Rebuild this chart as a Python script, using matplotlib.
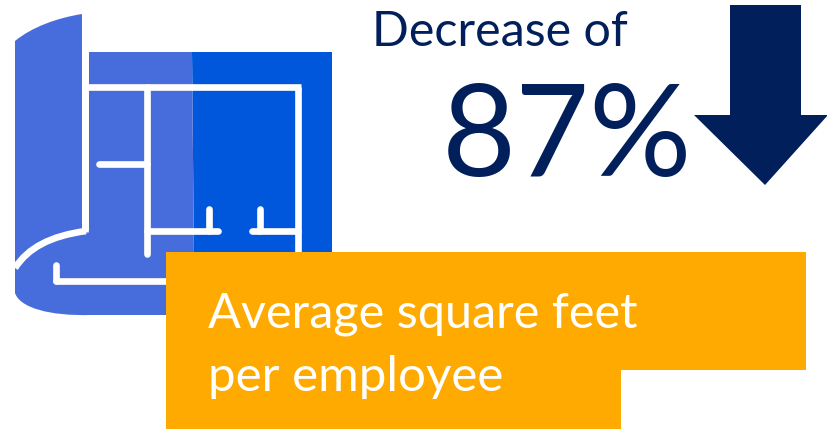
import matplotlib
matplotlib.use("Agg")
import matplotlib.pyplot as plt
import matplotlib.patches as patches
from matplotlib.path import Path

# Callout text
heading = "Decrease of"
decrease_pct = 87
caption_lines = ["Average square feet", "per employee"]

navy = "#001F5B"
orange = "#FFAA00"
light_blue = "#476CDB"
dark_blue = "#0057DB"

plt.rcParams["font.family"] = ["Lato", "DejaVu Sans"]

fig = plt.figure(figsize=(8.28, 4.29), dpi=100)
ax = fig.add_axes([0, 0, 1, 1])
ax.set_xlim(0, 828)
ax.set_ylim(429, 0)
ax.axis("off")


def poly(points, color, z=1):
    ax.add_patch(patches.Polygon(points, closed=True, facecolor=color, edgecolor="none", zorder=z))


def wall(xs, ys, lw=4.8, cap="round"):
    ax.plot(xs, ys, color="white", lw=lw, solid_capstyle=cap, solid_joinstyle="round", zorder=3)


# Blueprint sheet: right half, left half, rolled edge
poly([(192, 52), (332, 52), (332, 260), (194, 260)], dark_blue)
poly([(89, 52), (192, 52), (194, 260), (194, 315), (89, 315), (89, 232)], light_blue)

roll = Path(
    [(15, 41), (32, 27), (57, 18), (82, 14),
     (82, 229), (82, 229), (15, 268), (15, 268), (15, 41)],
    [Path.MOVETO, Path.CURVE4, Path.CURVE4, Path.CURVE4,
     Path.LINETO, Path.LINETO, Path.LINETO, Path.LINETO, Path.CLOSEPOLY],
)
ax.add_patch(patches.PathPatch(roll, facecolor=light_blue, edgecolor="none", zorder=1))

foot = Path(
    [(15, 268), (30, 245), (55, 234), (90, 230),
     (190, 230), (190, 315), (90, 315),
     (50, 316), (20, 308), (15, 293), (15, 268)],
    [Path.MOVETO, Path.CURVE4, Path.CURVE4, Path.CURVE4,
     Path.LINETO, Path.LINETO, Path.LINETO,
     Path.CURVE4, Path.CURVE4, Path.CURVE4, Path.CLOSEPOLY],
)
ax.add_patch(patches.PathPatch(foot, facecolor=light_blue, edgecolor="none", zorder=1))

# Floor plan walls
wall([85.5, 85.5], [52, 232], cap="butt")
wall([85.5, 301.5], [87, 87], cap="butt")
wall([298.3, 298.3], [87, 256], cap="butt")
wall([147, 147], [87, 254])
wall([99, 147], [164, 164])
wall([147, 218], [231, 231])
wall([209, 209], [209, 231])
wall([252, 298], [231, 231])
wall([260, 260], [209, 231])
wall([56, 56], [265, 281])
wall([56, 175], [281, 281])

outline = Path(
    [(86, 231), (50, 236), (28, 248), (15, 268)],
    [Path.MOVETO, Path.CURVE4, Path.CURVE4, Path.CURVE4],
)
ax.add_patch(patches.PathPatch(outline, facecolor="none", edgecolor="white", lw=4.8, zorder=3))

# Down arrow
poly([(730, 5), (801, 5), (801, 115), (828, 115), (765, 185), (694, 115), (730, 115)], navy)

# Caption box with the notched corner
poly([(166, 252), (806, 252), (806, 370), (621, 370), (621, 429), (166, 429)], orange, z=4)

ax.text(372, 46, heading, color=navy, fontsize=34.8, ha="left", va="baseline", zorder=5)
ax.text(442, 176, f"{decrease_pct}%", color=navy, fontsize=92, ha="left", va="baseline", zorder=5)
ax.text(208, 327, caption_lines[0], color="white", fontsize=35, ha="left", va="baseline", zorder=5)
ax.text(208, 391, caption_lines[1], color="white", fontsize=35.5, ha="left", va="baseline", zorder=5)

fig.savefig("out.png", dpi=100, facecolor="white")
